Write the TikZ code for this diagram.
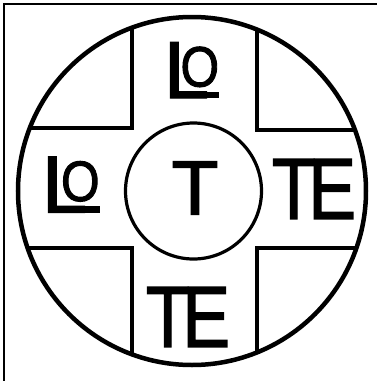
\documentclass[tikz,border=0pt]{standalone}
\usepackage{fontspec}
\setmainfont{Liberation Sans}
\newfontfamily\glyphs[FakeBold=1.8]{Liberation Sans}
\usetikzlibrary{calc,positioning}
\tikzset{
  rim/.style={line width=4.5pt,black},
  arm/.style={line width=4.5pt,black},
  hub/.style={line width=3.2pt,black},
  lett/.style={inner sep=0pt,outer sep=0pt},
  bar/.style={line width=6.5pt,black},
  frame/.style={line width=2pt,black}
}
\newcommand{\fs}[1]{\glyphs\fontsize{#1}{#1}\selectfont}
\newcommand{\smallo}{\raisebox{11.5pt}{\fs{57}\scalebox{0.87}[1]{O}}}

\begin{document}
\begin{tikzpicture}[x=1pt,y=-1pt]
\useasboundingbox (0,0) rectangle (377,381);
\draw[frame] (4,381) -- (4,4) -- (377,4);
% outer disc and cross
\draw[rim] (192,191) circle[radius=174pt];
\begin{scope}
\clip (192,191) circle[radius=174pt];
\draw[arm] (132,0) |- (0,128);
\draw[arm] (257,0) |- (377,130);
\draw[arm] (132,381) |- (0,248);
\draw[arm] (257,381) |- (377,248);
\end{scope}
\draw[hub] (193.5,191) circle[radius=68pt];
% letters
\node[lett,font=\fs{77}] (mid) at (195,188) {T};
\node[lett,font=\fs{87},xscale=0.82] (teright) at (314,189) {T\kern-.1em E};
\node[lett,font=\fs{87},xscale=0.82] (tebottom) at (188,317) {T\kern-.1em E};
\node[lett,font=\fs{81},anchor=base west] (lotop) at (164,98) {L\kern-28.5pt\smallo};
\draw[bar] ($(lotop.base west)+(8,-3.2)$) -- ($(lotop.base east)+(0,-3.2)$);
\node[lett,font=\fs{81},anchor=base west] (loleft) at (42,212.5) {L\kern-26pt\smallo};
\draw[bar] ($(loleft.base west)+(8,-3.2)$) -- ($(loleft.base east)+(0,-3.2)$);
\end{tikzpicture}
\end{document}
